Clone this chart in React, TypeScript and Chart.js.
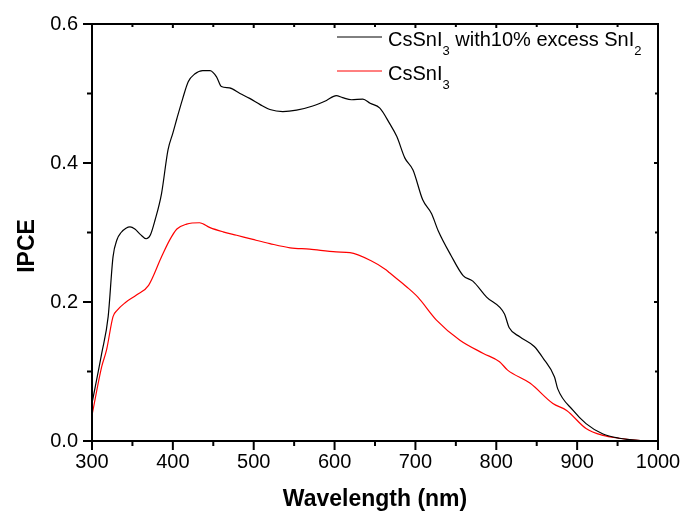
import { useEffect, useRef } from "react";
import { Chart, registerables } from "chart.js";

Chart.register(...registerables);

// ---- data ----
const excessWavelength = [300, 312, 320, 326, 331, 336, 342, 347, 353, 360, 367, 372, 378, 386, 394, 400, 405, 412, 419, 427, 437, 446, 454, 460, 470, 483, 495, 508, 520, 536, 553, 573, 590, 602, 610, 621, 635, 644, 656, 668, 677, 687, 697, 709, 720, 728, 744, 759, 771, 788, 810, 816, 829, 847, 858, 872, 876, 895, 911, 932, 952, 975, 1000];
const excessIpce = [0.054, 0.126, 0.179, 0.265, 0.290, 0.300, 0.306, 0.308, 0.305, 0.297, 0.291, 0.296, 0.318, 0.356, 0.419, 0.443, 0.464, 0.492, 0.517, 0.528, 0.533, 0.533, 0.524, 0.510, 0.508, 0.500, 0.493, 0.484, 0.477, 0.474, 0.476, 0.482, 0.490, 0.497, 0.494, 0.491, 0.492, 0.486, 0.479, 0.457, 0.438, 0.407, 0.390, 0.347, 0.327, 0.303, 0.267, 0.238, 0.230, 0.207, 0.183, 0.163, 0.150, 0.136, 0.119, 0.092, 0.075, 0.044, 0.025, 0.010, 0.004, 0.001, 0.000];

const pureWavelength = [300, 312, 318, 326, 331, 341, 355, 370, 386, 396, 405, 417, 433, 446, 462, 479, 499, 520, 545, 569, 602, 619, 644, 664, 668, 689, 703, 726, 755, 784, 804, 814, 842, 870, 887, 911, 932, 952, 975, 1000];
const pureIpce = [0.037, 0.107, 0.131, 0.179, 0.188, 0.199, 0.210, 0.224, 0.265, 0.289, 0.305, 0.312, 0.314, 0.307, 0.301, 0.296, 0.290, 0.284, 0.278, 0.276, 0.272, 0.271, 0.260, 0.246, 0.242, 0.222, 0.207, 0.174, 0.145, 0.126, 0.114, 0.102, 0.083, 0.054, 0.044, 0.018, 0.008, 0.004, 0.001, 0.000];

const xMajorTicks = [300, 400, 500, 600, 700, 800, 900, 1000];
const xMinorTicks = [350, 450, 550, 650, 750, 850, 950];
const yMajorTicks = [0, 0.2, 0.4, 0.6];
const yMinorTicks = [0.1, 0.3, 0.5];

const xTitle = "Wavelength (nm)";
const yTitle = "IPCE";
// legend labels as [text, isSubscript] segments
const excessLabel: [string, boolean][] = [["CsSnI", false], ["3", true], [" with10% excess SnI", false], ["2", true]];
const pureLabel: [string, boolean][] = [["CsSnI", false], ["3", true]];
const seriesColors = ["#000000", "#ff0000"];

const FONT = '"Liberation Sans", Arial, sans-serif';

const framePlugin = {
  id: "frame",
  afterDraw(chart: any) {
    const ctx = chart.ctx as CanvasRenderingContext2D;
    const { left, right, top, bottom } = chart.chartArea;
    const xs = chart.scales.x;
    const ys = chart.scales.y;
    ctx.save();
    ctx.strokeStyle = "#000";
    ctx.lineWidth = 2;
    ctx.lineCap = "butt";
    ctx.strokeRect(left, top, right - left, bottom - top);

    const line = (x1: number, y1: number, x2: number, y2: number) => {
      ctx.beginPath();
      ctx.moveTo(x1, y1);
      ctx.lineTo(x2, y2);
      ctx.stroke();
    };
    // x ticks
    xMajorTicks.forEach((v) => {
      const p = xs.getPixelForValue(v);
      line(p, bottom, p, bottom + 9);
      line(p, top, p, top + 4);
    });
    xMinorTicks.forEach((v) => {
      const p = xs.getPixelForValue(v);
      line(p, bottom, p, bottom + 5);
      line(p, top, p, top + 3);
    });
    yMajorTicks.forEach((v) => {
      const p = ys.getPixelForValue(v);
      line(left - 9, p, left, p);
      line(right - 4, p, right, p);
    });
    yMinorTicks.forEach((v) => {
      const p = ys.getPixelForValue(v);
      line(left - 5, p, left, p);
      line(right - 3, p, right, p);
    });

    // axis titles
    ctx.fillStyle = "#000";
    ctx.font = `bold 23px ${FONT}`;
    ctx.textAlign = "center";
    ctx.textBaseline = "alphabetic";
    ctx.fillText(xTitle, (left + right) / 2, 506);
    ctx.save();
    ctx.translate(34, 246);
    ctx.rotate(-Math.PI / 2);
    ctx.fillText(yTitle, 0, 0);
    ctx.restore();

    // legend
    const drawEntry = (segs: [string, boolean][], color: string, baseY: number) => {
      ctx.strokeStyle = color;
      ctx.lineWidth = 1;
      line(337, baseY - 9, 382, baseY - 9);
      let x = 388;
      ctx.textAlign = "left";
      ctx.fillStyle = "#000";
      segs.forEach(([t, sub]) => {
        ctx.font = sub ? `13px ${FONT}` : `20px ${FONT}`;
        ctx.fillText(t, x, sub ? baseY + 9 : baseY);
        x += ctx.measureText(t).width;
      });
    };
    drawEntry(excessLabel, seriesColors[0], 46);
    drawEntry(pureLabel, seriesColors[1], 80);
    ctx.restore();
  },
};

export default function App() {
  const ref = useRef<HTMLCanvasElement>(null);
  useEffect(() => {
    if (!ref.current) return;
    const chart = new Chart(ref.current, {
      type: "line",
      data: {
        datasets: [
          {
            label: "excess",
            data: excessWavelength.map((x, i) => ({ x, y: excessIpce[i] })),
            borderColor: seriesColors[0],
            borderWidth: 1.2,
            pointRadius: 0,
            cubicInterpolationMode: "monotone",
            fill: false,
          },
          {
            label: "pure",
            data: pureWavelength.map((x, i) => ({ x, y: pureIpce[i] })),
            borderColor: seriesColors[1],
            borderWidth: 1.2,
            pointRadius: 0,
            cubicInterpolationMode: "monotone",
            fill: false,
          },
        ],
      },
      options: {
        responsive: false,
        animation: false,
        layout: { padding: { top: 24, right: 26, left: 0, bottom: 0 } },
        plugins: { legend: { display: false }, tooltip: { enabled: false } },
        scales: {
          x: {
            type: "linear",
            min: 300,
            max: 1000,
            afterBuildTicks: (s: any) => {
              s.ticks = xMajorTicks.map((value) => ({ value }));
            },
            afterFit: (s: any) => {
              s.height = 73;
              s.paddingLeft = 0;
              s.paddingRight = 0;
            },
            ticks: {
              color: "#000",
              font: { family: FONT, size: 20 },
              padding: 9,
              maxRotation: 0,
              autoSkip: false,
              callback: (v: any) => String(v),
            },
            grid: { display: false, drawTicks: false },
            border: { display: false },
          },
          y: {
            type: "linear",
            min: 0,
            max: 0.6,
            afterBuildTicks: (s: any) => {
              s.ticks = yMajorTicks.map((value) => ({ value }));
            },
            afterFit: (s: any) => {
              s.width = 92;
              s.paddingTop = 0;
              s.paddingBottom = 0;
            },
            ticks: {
              color: "#000",
              font: { family: FONT, size: 20 },
              padding: 14,
              autoSkip: false,
              callback: (v: any) => Number(v).toFixed(1),
            },
            grid: { display: false, drawTicks: false },
            border: { display: false },
          },
        },
      },
      plugins: [framePlugin],
    });
    return () => chart.destroy();
  }, []);
  return (
    <div style={{ position: "absolute", left: 0, top: 0, width: 684, height: 514, background: "#fff" }}>
      <canvas ref={ref} width={684} height={514} style={{ display: "block" }} />
    </div>
  );
}
